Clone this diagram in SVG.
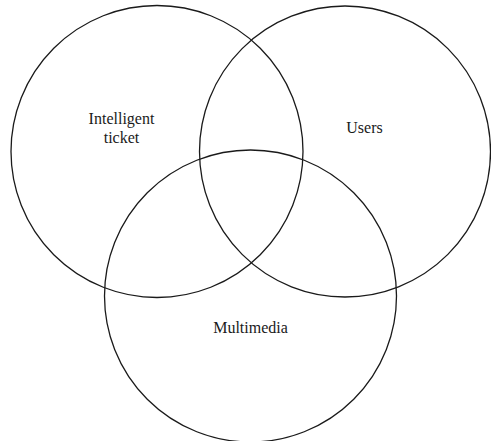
<svg xmlns="http://www.w3.org/2000/svg" width="491" height="441" viewBox="0 0 491 441">
  <style>
    .set { fill: none; stroke: #1a1a1a; stroke-width: 1.3; }
    .lbl { font-size: 16px; fill: #1a1a1a; text-anchor: middle; }
  </style>
  <rect width="491" height="441" fill="#ffffff"/>
  <g id="intelligent-ticket">
    <circle class="set" cx="157" cy="151.5" r="146"/>
    <text class="lbl" font-family="'Liberation Serif', 'DejaVu Serif', serif" x="121.5" y="123.5">Intelligent</text>
    <text class="lbl" font-family="'Liberation Serif', 'DejaVu Serif', serif" x="121.5" y="143">ticket</text>
  </g>
  <g id="users">
    <circle class="set" cx="345" cy="151.5" r="145.5"/>
    <text class="lbl" font-family="'Liberation Serif', 'DejaVu Serif', serif" x="364.5" y="132.5">Users</text>
  </g>
  <g id="multimedia">
    <circle class="set" cx="250.5" cy="296" r="146"/>
    <text class="lbl" font-family="'Liberation Serif', 'DejaVu Serif', serif" x="250.5" y="333">Multimedia</text>
  </g>
  <g id="connectors"/>
</svg>
